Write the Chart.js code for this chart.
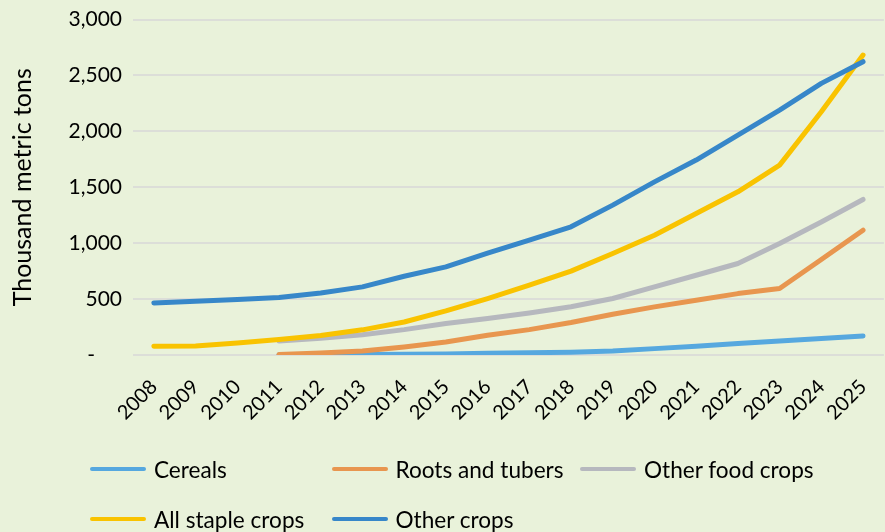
<!DOCTYPE html>
<html>
<head>
<meta charset="utf-8">
<script src="https://cdn.jsdelivr.net/npm/chart.js@4.4.1/dist/chart.umd.min.js"></script>
<style>
  html, body { margin: 0; padding: 0; width: 885px; height: 532px; overflow: hidden; background: #E9F2DA; }
  #wrap { position: absolute; left: 0; top: 0; width: 892px; height: 440px; }
  #legend { position: absolute; left: 0; top: 0; width: 885px; height: 532px; pointer-events: none; }
  .item { position: absolute; height: 30px; display: flex; align-items: center; font-family: Lato, sans-serif; font-size: 22.6px; color: #000; white-space: nowrap; }
  .swatch { width: 56px; height: 4.5px; border-radius: 3px; margin-right: 8px; }
</style>
</head>
<body>
<div id="wrap"><canvas id="c" width="892" height="440"></canvas></div>
<div id="legend"></div>
<script>
const years = ['2008','2009','2010','2011','2012','2013','2014','2015','2016','2017','2018','2019','2020','2021','2022','2023','2024','2025'];
const cereals    = [null, null, null, 2, 3, 5, 7, 10, 15, 20, 25, 36, 57, 78, 102, 125, 147, 170];
const roots      = [null, null, null, 5, 18, 36, 72, 116, 176, 227, 290, 364, 430, 490, 549, 594, 854, 1116];
const otherFood  = [null, null, null, 125, 150, 182, 227, 281, 326, 376, 432, 505, 609, 713, 818, 997, 1190, 1391];
const allStaple  = [78, 81, 107, 138, 174, 225, 295, 394, 505, 624, 750, 907, 1071, 1265, 1459, 1698, 2175, 2682];
const otherCrops = [465, 480, 496, 514, 555, 609, 704, 788, 910, 1027, 1146, 1340, 1548, 1743, 1966, 2190, 2429, 2623];
const seriesNames = ['Cereals', 'Roots and tubers', 'Other food crops', 'All staple crops', 'Other crops'];
const yTicks = [0, 500, 1000, 1500, 2000, 2500, 3000];

const colors = ['#56A8DF', '#E8964F', '#B6B8BE', '#F9C300', '#3787C9'];
const seriesData = [cereals, roots, otherFood, allStaple, otherCrops];

const datasets = seriesData.map((d, i) => ({
  label: seriesNames[i],
  data: d,
  borderColor: colors[i],
  backgroundColor: colors[i],
  borderWidth: 5,
  borderCapStyle: 'round',
  borderJoinStyle: 'round',
  pointRadius: 0,
  tension: 0,
  spanGaps: false,
  order: seriesData.length - 1 - i
}));

const FONT = 'Lato';
new Chart(document.getElementById('c'), {
  type: 'line',
  data: { labels: years, datasets },
  options: {
    responsive: false,
    animation: false,
    layout: { padding: { top: 19.5, left: 0, right: 0, bottom: 0 } },
    plugins: { legend: { display: false }, tooltip: { enabled: false } },
    scales: {
      x: {
        offset: true,
        grid: { display: false },
        border: { display: false },
        ticks: { color: '#000', font: { family: FONT, size: 20 }, minRotation: 45, maxRotation: 45, padding: 12 },
        afterFit: (s) => { s.height = 85; s.paddingTop = 0; s.paddingBottom = 0; }
      },
      y: {
        min: 0, max: 3000,
        afterBuildTicks: (s) => { s.ticks = yTicks.map(v => ({ value: v })); },
        grid: { color: '#DCDED8', lineWidth: 2, drawTicks: false },
        border: { display: false },
        ticks: {
          color: '#000', font: { family: FONT, size: 21 }, padding: 11,
          callback: (v) => v === 0 ? '-     ' : v.toLocaleString('en-US')
        },
        title: { display: true, text: 'Thousand metric tons', color: '#000', font: { family: FONT, size: 25, weight: 'normal' }, padding: { top: 8, bottom: 0 } },
        afterFit: (s) => { s.width = 133; s.paddingTop = 0; s.paddingBottom = 0; }
      }
    }
  }
});

// Legend (HTML) built from the series
const legend = document.getElementById('legend');
const slots = [[90, 454], [331.5, 454], [580, 454], [90, 504], [331.5, 504]];
seriesNames.forEach((name, i) => {
  const el = document.createElement('div');
  el.className = 'item';
  el.style.left = slots[i][0] + 'px';
  el.style.top = slots[i][1] + 'px';
  const sw = document.createElement('span');
  sw.className = 'swatch';
  sw.style.background = colors[i];
  const tx = document.createElement('span');
  tx.textContent = name;
  el.appendChild(sw); el.appendChild(tx);
  legend.appendChild(el);
});
</script>
</body>
</html>
